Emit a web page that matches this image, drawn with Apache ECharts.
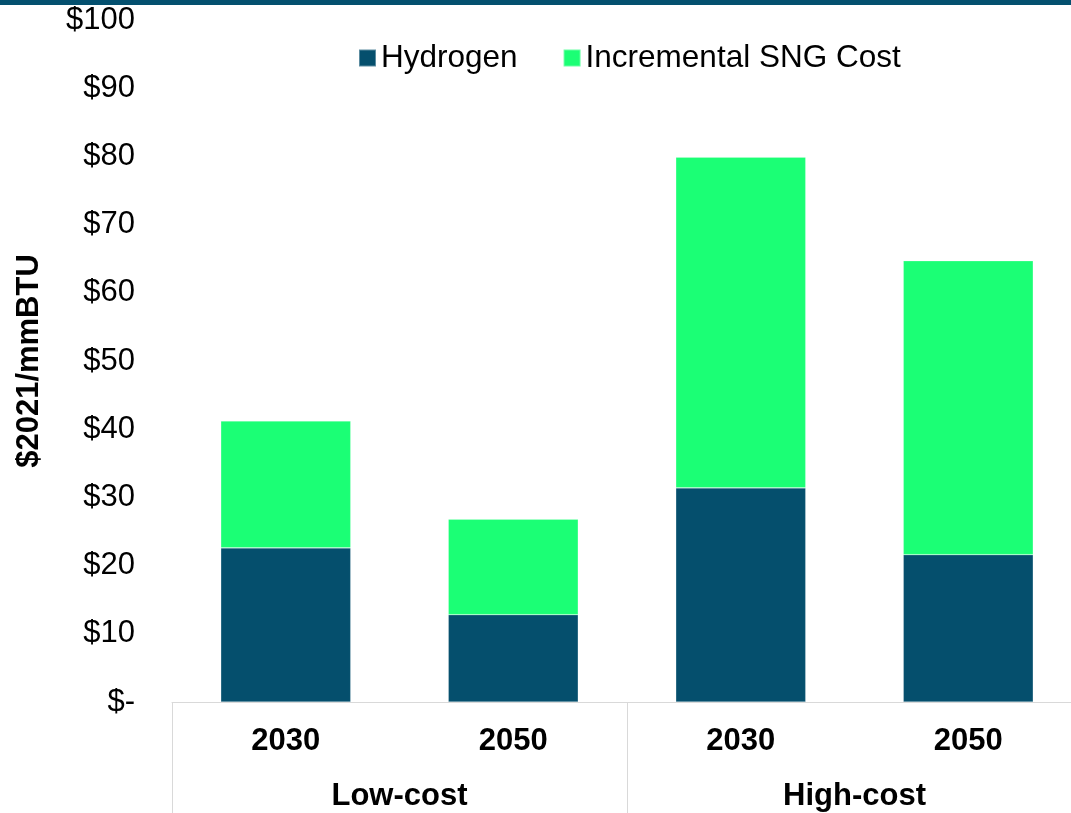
<!DOCTYPE html>
<html>
<head>
<meta charset="utf-8">
<script src="https://cdn.jsdelivr.net/npm/echarts@6/dist/echarts.min.js"></script>
<style>
  html, body { margin: 0; padding: 0; background: #fff; overflow: hidden; width: 1071px; height: 813px; }
  /* plot runs a little past the right edge of the page */
  #chart { width: 1082px; height: 813px; }
</style>
</head>
<body>
<div id="chart"></div>
<script>
// Cost of synthetic natural gas by scenario and year ($2021/mmBTU)
const years = ['2030', '2050', '2030', '2050'];
const scenarios = ['Low-cost', 'High-cost'];
const hydrogen = [22.6, 12.8, 31.4, 21.6];
const incrementalSNG = [18.6, 14.0, 48.5, 43.1];
const yTicks = [0, 10, 20, 30, 40, 50, 60, 70, 80, 90, 100];

const DARK = '#054f6d';
const GREEN = '#1bff75';
const FONT = '"Liberation Sans", Arial, sans-serif';
const FS = 31;

const chart = echarts.init(document.getElementById('chart'), null, { renderer: 'canvas' });

chart.setOption({
  animation: false,
  textStyle: { fontFamily: FONT },
  graphic: [{
    type: 'rect',
    left: 0, top: 0,
    shape: { width: 1082, height: 5 },
    style: { fill: '#04506f' },
    z: 10
  }],
  legend: {
    left: 353,
    top: 37,
    itemWidth: 17,
    itemHeight: 17,
    itemGap: 45,
    itemTextGap: 7,
    icon: 'rect',
    textStyle: { fontSize: 31.5, color: '#000', fontFamily: FONT },
    data: ['Hydrogen', 'Incremental SNG Cost']
  },
  grid: {
    left: 172,
    top: 20,
    right: 0,
    bottom: 111,
    containLabel: false
  },
  xAxis: [{
    type: 'category',
    data: years,
    position: 'bottom',
    axisLine: { show: true, lineStyle: { color: '#d9d9d9', width: 1 } },
    axisTick: { show: false },
    axisLabel: {
      margin: 24,
      fontSize: FS,
      fontWeight: 'bold',
      color: '#000',
      fontFamily: FONT
    }
  }, {
    type: 'category',
    data: scenarios,
    position: 'bottom',
    offset: 0,
    axisLine: { show: false },
    axisTick: { show: true, length: 115, lineStyle: { color: '#d9d9d9', width: 1 } },
    axisLabel: {
      margin: 79,
      fontSize: FS,
      fontWeight: 'bold',
      color: '#000',
      fontFamily: FONT
    }
  }],
  yAxis: {
    type: 'value',
    min: yTicks[0],
    max: yTicks[yTicks.length - 1],
    interval: 10,
    name: '$2021/mmBTU',
    nameLocation: 'middle',
    nameGap: 127,
    nameTextStyle: { fontSize: FS, fontWeight: 'bold', color: '#000', fontFamily: FONT },
    axisLine: { show: false },
    axisTick: { show: false },
    splitLine: { show: false },
    axisLabel: {
      margin: 37,
      fontSize: FS,
      color: '#000',
      fontFamily: FONT,
      formatter: v => (v === 0 ? '$-' : '$' + v)
    }
  },
  series: [{
    name: 'Hydrogen',
    type: 'bar',
    stack: 'cost',
    xAxisIndex: 0,
    barWidth: 130,
    itemStyle: { color: DARK, borderColor: 'rgba(255,255,255,0.35)', borderWidth: 0.6 },
    data: hydrogen
  }, {
    name: 'Incremental SNG Cost',
    type: 'bar',
    stack: 'cost',
    xAxisIndex: 0,
    barWidth: 130,
    itemStyle: { color: GREEN, borderColor: 'rgba(255,255,255,0.35)', borderWidth: 0.6 },
    data: incrementalSNG
  }]
});
</script>
</body>
</html>
